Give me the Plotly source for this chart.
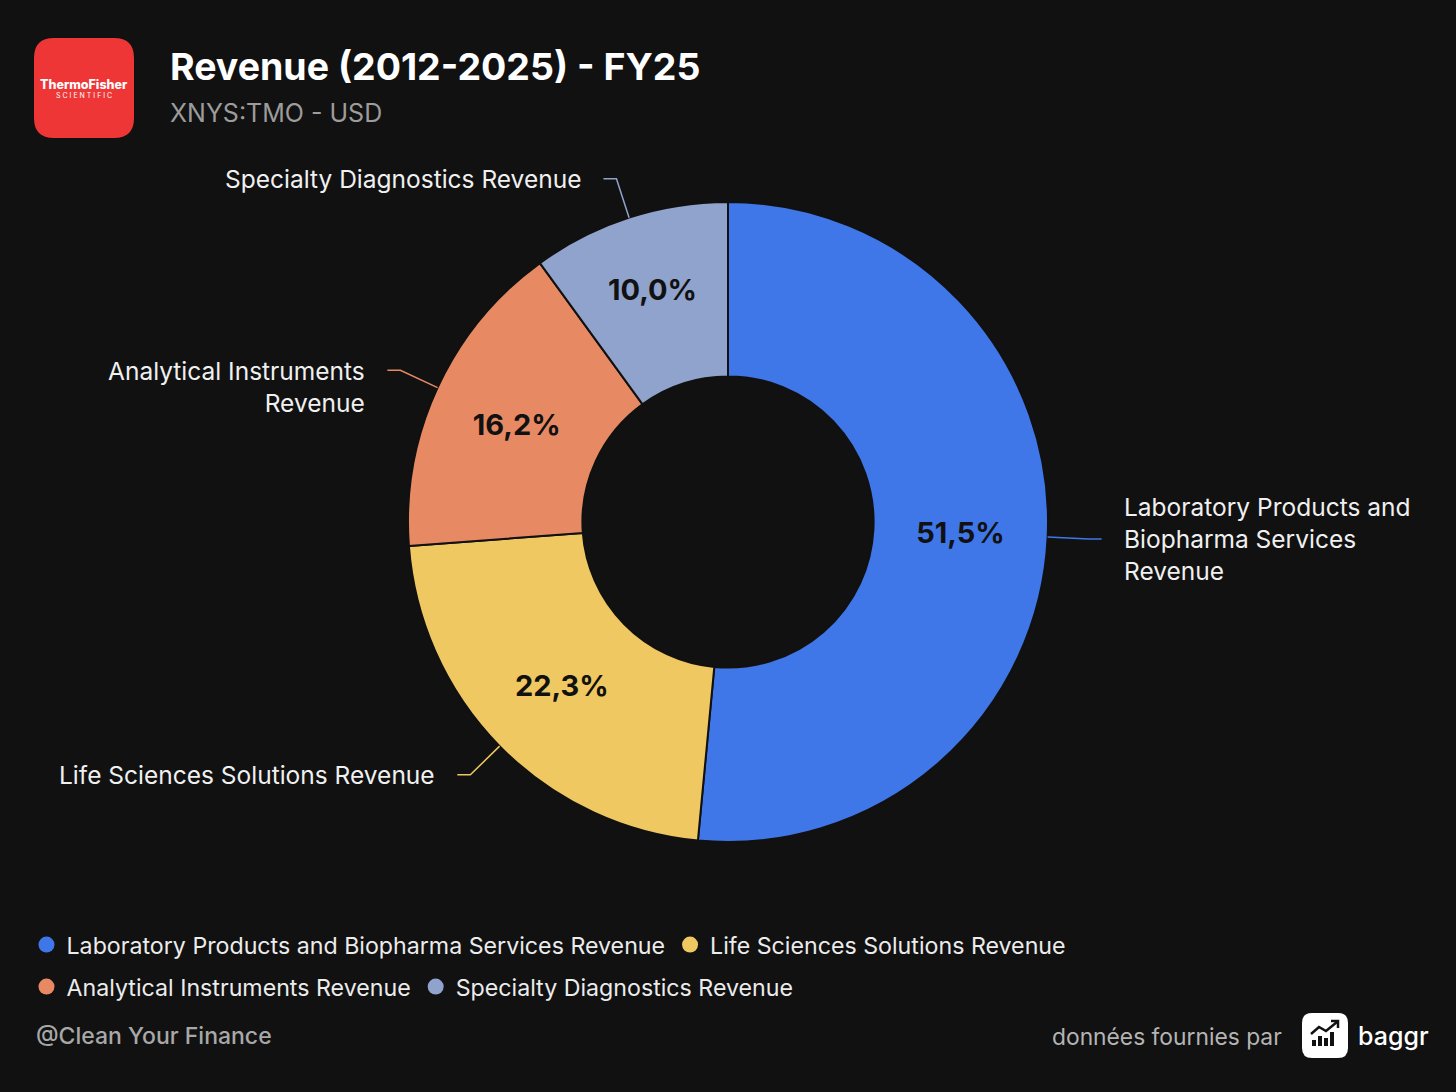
import numpy as np
import plotly.graph_objects as go

# segment data (share of FY25 revenue, %)
segments = [
    'Laboratory Products and Biopharma Services Revenue',
    'Life Sciences Solutions Revenue',
    'Analytical Instruments Revenue',
    'Specialty Diagnostics Revenue',
]
shares = [51.5, 22.3, 16.2, 10.0]
colors = ['#3f77e9', '#efc862', '#e78a63', '#8fa3cc']

# labels shown outside the donut (line-wrapped like the original)
outside_labels = [
    'Laboratory Products and<br>Biopharma Services<br>Revenue',
    'Life Sciences Solutions Revenue',
    'Analytical Instruments<br>Revenue',
    'Specialty Diagnostics Revenue',
]
label_dy = [0, 0, 17, 0]

legend_rows = [1, 1, 2, 2]

title = 'Revenue (2012-2025) - FY25'
subtitle = 'XNYS:TMO - USD'

W, H = 1456, 1092
BG = '#111111'
FONT = 'Inter'

# donut geometry in pixels
cx, cy, R = 728, 522, 320
hole = 0.455

fig = go.Figure()

fig.add_trace(go.Pie(
    labels=segments, values=shares, sort=False, direction='clockwise', rotation=0,
    hole=hole,
    marker=dict(colors=colors, line=dict(color=BG, width=2)),
    texttemplate='%{percent:.1%}', textposition='inside',
    insidetextorientation='horizontal',
    textfont=dict(family=FONT, size=29, color='#111111', weight=700),
    domain=dict(x=[(cx - R) / W, (cx + R) / W], y=[(H - cy - R) / H, (H - cy + R) / H]),
    showlegend=False, hoverinfo='label+percent',
))

# legend entries as round markers, two rows
for name, col, row in zip(segments, colors, legend_rows):
    fig.add_trace(go.Scatter(
        x=[None], y=[None], mode='markers', name=name,
        marker=dict(symbol='circle', size=20, color=col),
        legend='legend' if row == 1 else 'legend2',
    ))

# connectors + outside labels, from the slice mid angles
cum = np.cumsum([0] + shares)
mids = (cum[:-1] + cum[1:]) / 2 / cum[-1] * 2 * np.pi
shapes = []
annotations = []
for ang, col, lab, dy in zip(mids, colors, outside_labels, label_dy):
    sx, sy = cx + R * np.sin(ang), cy - R * np.cos(ang)
    ex, ey = cx + (R + 41) * np.sin(ang), cy - (R + 41) * np.cos(ang)
    side = 1 if np.sin(ang) > 0 else -1
    hx = ex + side * 13
    shapes.append(dict(type='path', xref='x', yref='y',
                       path=f'M {sx},{sy} L {ex},{ey} L {hx},{ey}',
                       line=dict(color=col, width=1.5)))
    annotations.append(dict(
        x=hx + side * 20, y=ey + dy, xref='x', yref='y', text=lab, showarrow=False,
        xanchor='left' if side > 0 else 'right', yanchor='middle',
        align='left' if side > 0 else 'right',
        font=dict(family=FONT, size=24.5, color='#f0f0f0'),
    ))


def rounded_rect(x0, y0, x1, y1, r):
    return (f'M {x0 + r},{y0} L {x1 - r},{y0} Q {x1},{y0} {x1},{y0 + r} '
            f'L {x1},{y1 - r} Q {x1},{y1} {x1 - r},{y1} L {x0 + r},{y1} '
            f'Q {x0},{y1} {x0},{y1 - r} L {x0},{y0 + r} Q {x0},{y0} {x0 + r},{y0} Z')


# Thermo Fisher logo tile
shapes.append(dict(type='path', xref='x', yref='y', path=rounded_rect(34, 38, 134, 138, 20),
                   fillcolor='#ee3636', line=dict(width=0)))
annotations.append(dict(x=84, y=84, xref='x', yref='y', text='ThermoFisher', showarrow=False,
                        font=dict(family=FONT, size=12.5, color='white', weight=800)))
annotations.append(dict(x=84, y=95, xref='x', yref='y', text='S C I E N T I F I C', showarrow=False,
                        font=dict(family=FONT, size=7, color='white')))

# titles
annotations.append(dict(x=168, y=66, xref='x', yref='y', text=title, showarrow=False,
                        xanchor='left', yanchor='middle',
                        font=dict(family=FONT, size=37.5, color='#ffffff', weight=700)))
annotations.append(dict(x=168, y=113, xref='x', yref='y', text=subtitle, showarrow=False,
                        xanchor='left', yanchor='middle',
                        font=dict(family=FONT, size=25, color='#9c9c9c')))

# footer
annotations.append(dict(x=34, y=1036, xref='x', yref='y', text='@Clean Your Finance', showarrow=False,
                        xanchor='left', yanchor='middle',
                        font=dict(family=FONT, size=23, color='#a8a8a8', weight=500)))
annotations.append(dict(x=1284, y=1036, xref='x', yref='y', text='données fournies par', showarrow=False,
                        xanchor='right', yanchor='middle',
                        font=dict(family=FONT, size=22.8, color='#b4b4b4')))
annotations.append(dict(x=1356, y=1036, xref='x', yref='y', text='baggr', showarrow=False,
                        xanchor='left', yanchor='middle',
                        font=dict(family=FONT, size=25, color='#ffffff', weight=500)))

# baggr icon tile
shapes.append(dict(type='path', xref='x', yref='y', path=rounded_rect(1302, 1013, 1348, 1058, 10),
                   fillcolor='#ffffff', line=dict(width=0)))
for bx, btop in [(1314, 1040), (1320, 1036), (1326, 1038), (1332, 1032)]:
    shapes.append(dict(type='rect', xref='x', yref='y', x0=bx - 2, x1=bx + 2, y0=btop, y1=1046,
                       fillcolor='#111111', line=dict(width=0)))
shapes.append(dict(type='path', xref='x', yref='y', path='M 1311,1034 L 1319,1027 L 1326,1031 L 1337,1022',
                   line=dict(color='#111111', width=2.5)))
shapes.append(dict(type='path', xref='x', yref='y', path='M 1331,1021 L 1338,1021 L 1338,1028',
                   line=dict(color='#111111', width=2.5)))

legend_style = dict(orientation='h', xanchor='left', yanchor='middle',
                    font=dict(family=FONT, size=23.2, color='#ececec'),
                    bgcolor='rgba(0,0,0,0)', itemwidth=30, itemclick=False)

fig.update_layout(
    width=W, height=H,
    margin=dict(l=0, r=0, t=0, b=0),
    paper_bgcolor=BG, plot_bgcolor=BG,
    separators=',.',
    font=dict(family=FONT, color='#ececec'),
    xaxis=dict(range=[0, W], visible=False, fixedrange=True),
    yaxis=dict(range=[H, 0], visible=False, fixedrange=True),
    shapes=shapes, annotations=annotations,
    legend=dict(x=0.0182, y=1 - 945 / H, **legend_style),
    legend2=dict(x=0.0182, y=1 - 987 / H, **legend_style),
)

fig.write_html('out.html', config={'displayModeBar': False},
               post_script="document.body.style.margin='0';document.body.style.background='#111111';")
